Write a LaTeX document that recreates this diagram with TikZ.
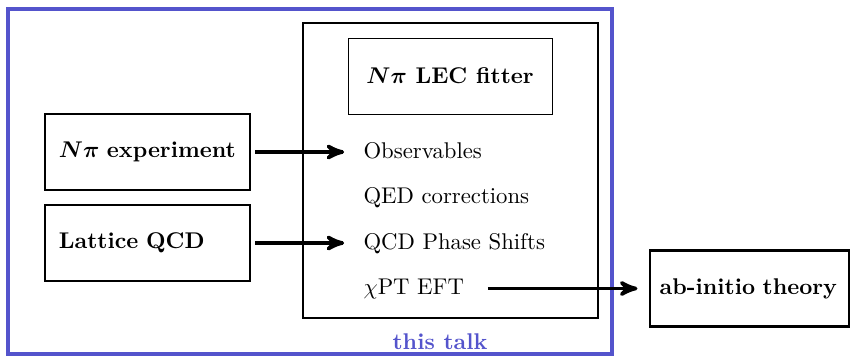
\documentclass[tikz,border=0pt]{standalone}
\usepackage{amsmath}
\usepackage{bm}
\usetikzlibrary{arrows, positioning}
\definecolor{talkblue}{RGB}{84,84,204}

\begin{document}
\begin{tikzpicture}[x=0.44pt, y=-0.44pt, >=stealth',
                   inbox/.style={draw, line width=1pt, text width=78pt,
                     inner xsep=6pt, minimum height=33.4pt, align=left,
                     font=\bfseries},
                   item/.style={anchor=west, text height=1.5ex, text depth=0.25ex},
                   flow/.style={->, line width=1.6pt, shorten <=2pt, shorten >=5pt}]
\useasboundingbox (0,0) rectangle (851,356);
%% frames
\draw[talkblue, line width=1.8pt] (8,9) rectangle (612,354);
\draw[line width=1pt] (303,23) rectangle (598,318);
\node[talkblue, font=\bfseries] (talk) at (440,342) {this talk};
%% inputs
\node[inbox] (exp) at (147.5,152) {$\bm{N\pi}$ experiment};
\node[inbox] (lqcd) at (147.5,243) {Lattice QCD};
%% fitter
\node[draw, line width=0.4pt, minimum width=89.8pt, minimum height=33.4pt,
      font=\bfseries] (fit) at (450,76) {$\bm{N\pi}$ LEC fitter};
\node[item] (obs) at (355.5,152) {Observables};
\node[item] (qed) at (355.5,197) {QED corrections};
\node[item] (qcd) at (355.5,243) {QCD Phase Shifts};
\node[item] (chpt) at (355.5,288.5) {$\chi$PT EFT};
%% output
\node[inbox, text width=79pt, inner xsep=4.3pt] (abin) at (749.5,288.5) {ab-initio theory};

\path[flow] (exp) edge (obs)
(lqcd) edge (qcd);
\path[flow] (chpt) edge [shorten <=7pt] (abin);
\end{tikzpicture}
\end{document}
